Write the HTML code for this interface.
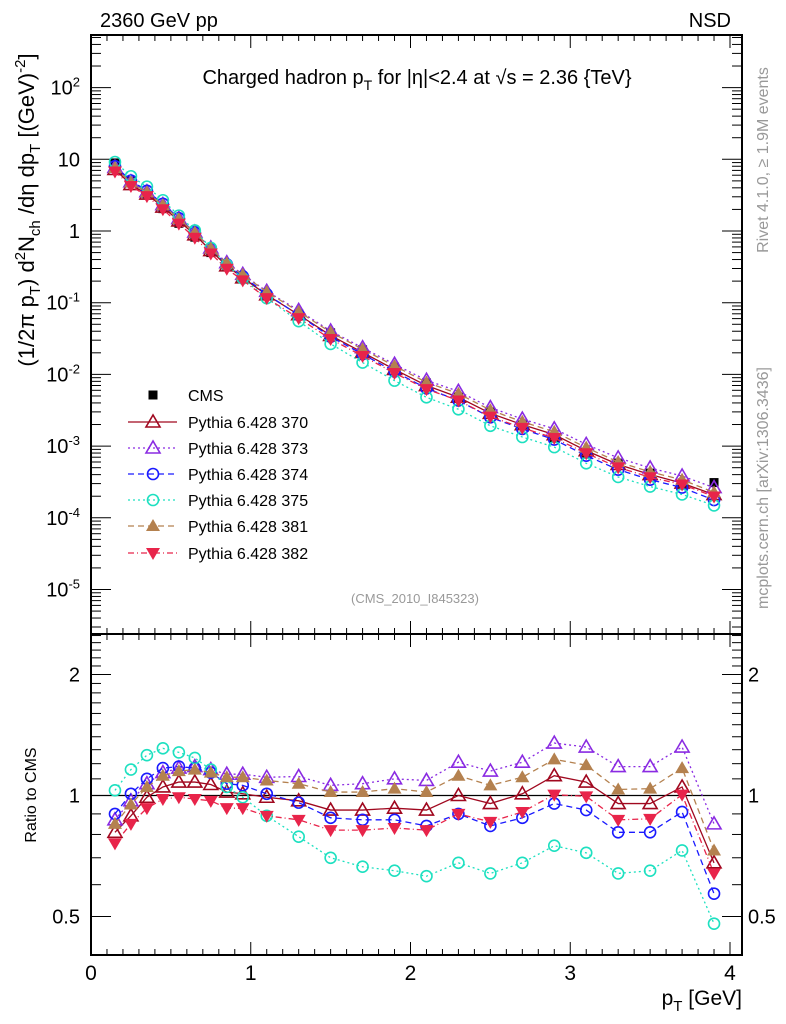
<!DOCTYPE html>
<html><head><meta charset="utf-8"><style>
html,body{margin:0;padding:0;background:#fff;}
svg{display:block;font-family:"Liberation Sans",sans-serif;}
</style></head><body>
<svg id="chart" width="786" height="1024" viewBox="0 0 786 1024"></svg>
<script>
const pt = [0.15,0.25,0.35,0.45,0.55,0.65,0.75,0.85,0.95,1.1,1.3,1.5,1.7,1.9,2.1,2.3,2.5,2.7,2.9,3.1,3.3,3.5,3.7,3.9];
const cmsValues = [8.9,5.0,3.3,2.05,1.28,0.82,0.5,0.32,0.22,0.13,0.07,0.038,0.022,0.0126,0.0076,0.0048,0.003,0.00197,0.00129,0.0008,0.00058,0.00042,0.00029,0.00031];
const ratio370 = [0.81,0.89,0.99,1.05,1.08,1.08,1.065,1.02,1.01,0.99,0.97,0.92,0.92,0.93,0.92,1.0,0.955,1.01,1.12,1.08,0.955,0.955,1.05,0.68];
const ratio373 = [0.87,0.97,1.07,1.14,1.17,1.18,1.16,1.13,1.13,1.11,1.115,1.06,1.07,1.10,1.09,1.21,1.15,1.21,1.35,1.32,1.18,1.18,1.32,0.85];
const ratio374 = [0.90,1.01,1.10,1.17,1.18,1.17,1.14,1.07,1.06,1.01,0.96,0.88,0.87,0.87,0.84,0.90,0.84,0.88,0.955,0.92,0.81,0.81,0.91,0.57];
const ratio375 = [1.03,1.16,1.26,1.31,1.28,1.24,1.16,1.05,0.99,0.89,0.79,0.70,0.665,0.65,0.63,0.68,0.64,0.68,0.75,0.72,0.64,0.65,0.73,0.48];
const ratio381 = [0.85,0.95,1.05,1.12,1.15,1.16,1.14,1.11,1.11,1.09,1.07,1.02,1.02,1.04,1.02,1.12,1.06,1.11,1.23,1.19,1.035,1.04,1.17,0.73];
const ratio382 = [0.76,0.85,0.93,0.98,0.99,0.98,0.97,0.93,0.93,0.89,0.87,0.82,0.82,0.83,0.82,0.90,0.86,0.91,1.005,0.995,0.87,0.875,1.005,0.64];
const seriesNames = ["370","373","374","375","381","382"];
const xTicks = [0,1,2,3,4];
const yMainTicks = [{v:100,l:"10<tspan dy='-8' font-size='13'>2</tspan>"},{v:10,l:"10"},{v:1,l:"1"},{v:0.1,l:"10<tspan dy='-8' font-size='13'>-1</tspan>"},{v:0.01,l:"10<tspan dy='-8' font-size='13'>-2</tspan>"},{v:0.001,l:"10<tspan dy='-8' font-size='13'>-3</tspan>"},{v:0.0001,l:"10<tspan dy='-8' font-size='13'>-4</tspan>"},{v:0.00001,l:"10<tspan dy='-8' font-size='13'>-5</tspan>"}];
const yRatioTicks = [2,1,0.5];

const L=91,R=742,T=35,MB=634,RB=955;
const X = v => 91 + v*159.75;
const Y = v => 231 - 71.7*Math.log10(v);
const YR = v => 795.5 - 402*Math.log10(v);
const NS="http://www.w3.org/2000/svg";
const svg=document.getElementById('chart');
function mk(tag,attrs,parent){const e=document.createElementNS(NS,tag);for(const k in attrs)e.setAttribute(k,attrs[k]);(parent||svg).appendChild(e);return e;}

const styles = {
 "370":{c:"#a0081f",dash:"",m:"tri-open"},
 "373":{c:"#8a2be2",dash:"2,3",m:"tri-open"},
 "374":{c:"#1a1aff",dash:"6,4",m:"circ"},
 "375":{c:"#1de0c0",dash:"2,3",m:"circ"},
 "381":{c:"#b4814f",dash:"6,4",m:"tri-fill"},
 "382":{c:"#e8244a",dash:"6,3,1,3",m:"tri-down"}
};
const ratios={"370":ratio370,"373":ratio373,"374":ratio374,"375":ratio375,"381":ratio381,"382":ratio382};

function marker(g,type,x,y,c){
  let e;
  if(type==="tri-open") e=mk('polygon',{points:`${x},${y-7} ${x-7},${y+5} ${x+7},${y+5}`,fill:"none",stroke:c,'stroke-width':1.6},g);
  else if(type==="tri-fill") e=mk('polygon',{points:`${x},${y-7} ${x-7},${y+5} ${x+7},${y+5}`,fill:c},g);
  else if(type==="tri-down") e=mk('polygon',{points:`${x},${y+7} ${x-7},${y-5} ${x+7},${y-5}`,fill:c},g);
  else if(type==="circ") e=mk('circle',{cx:x,cy:y,r:5.5,fill:"none",stroke:c,'stroke-width':1.6},g);
  else e=mk('rect',{x:x-4.5,y:y-4.5,width:9,height:9,fill:"#000"},g);
  return e;
}

const defs=mk('defs',{});
const cp1=mk('clipPath',{id:'cm'},defs); mk('rect',{x:L,y:T,width:R-L,height:MB-T},cp1);
const cp2=mk('clipPath',{id:'cr'},defs); mk('rect',{x:L,y:MB,width:R-L,height:RB-MB},cp2);

const f1=mk('rect',{x:L,y:T,width:R-L,height:MB-T,fill:"none",stroke:"#000",'stroke-width':2});


const f2=mk('rect',{x:L,y:MB,width:R-L,height:RB-MB,fill:"none",stroke:"#000",'stroke-width':2});



const xt=mk('g',{stroke:"#000",'stroke-width':1});


for(let i=0;i<=40;i++){const v=i/10;const x=X(v);if(x>R)break;const big=i%10===0;const len=big?13:6;
 [T,MB].forEach(y=>mk('line',{x1:x,y1:y,x2:x,y2:y+len},xt));
 [MB,RB].forEach(y=>mk('line',{x1:x,y1:y,x2:x,y2:y-len},xt));}
xTicks.forEach(v=>{const t=mk('text',{x:X(v),y:980,'font-size':21,'text-anchor':'middle'});t.textContent=v;
 
 });

const yt=mk('g',{stroke:"#000",'stroke-width':1});


for(let d=-6;d<=2;d++){for(let k=1;k<=9;k++){const v=k*Math.pow(10,d);const y=Y(v);if(y<T||y>MB)continue;const len=k===1?20:10;
 mk('line',{x1:L,y1:y,x2:L+len,y2:y},yt);mk('line',{x1:R,y1:y,x2:R-len,y2:y},yt);}}
yMainTicks.forEach(o=>{const t=mk('text',{x:80,y:Y(o.v)+7,'font-size':20,'text-anchor':'end'});t.innerHTML=o.l;
 
 });

const rt=mk('g',{stroke:"#000",'stroke-width':1});


for(let v=0.4;v<=2.55;v+=0.1){const vv=Math.round(v*10)/10;const y=YR(vv);if(y<MB||y>RB)continue;const big=(vv===0.5||vv===1||vv===2);const len=big?20:10;
 mk('line',{x1:L,y1:y,x2:L+len,y2:y},rt);mk('line',{x1:R,y1:y,x2:R-len,y2:y},rt);}
yRatioTicks.forEach(v=>{const t=mk('text',{x:80,y:YR(v)+7,'font-size':20,'text-anchor':'end'});t.textContent=v;
 
 
 const t2=mk('text',{x:748,y:YR(v)+7,'font-size':20});t2.textContent=v;
 
 });
const ref=mk('line',{x1:L,y1:YR(1),x2:R,y2:YR(1),stroke:"#000",'stroke-width':1.3});



const gMain=mk('g',{'clip-path':'url(#cm)'});


const gRat=mk('g',{'clip-path':'url(#cr)'});


const gc=mk('g',{},gMain);


pt.forEach((p,i)=>{const m=marker(gc,'sq',X(p),Y(cmsValues[i]));
  
  });
seriesNames.forEach(n=>{
  const s=styles[n],r=ratios[n];
  const g=mk('g',{},gMain);
  
  
  const pm=pt.map((p,i)=>X(p)+','+Y(cmsValues[i]*r[i])).join(' ');
  mk('polyline',{points:pm,fill:'none',stroke:s.c,'stroke-width':1.3,'stroke-dasharray':s.dash},g);
  pt.forEach((p,i)=>{const m=marker(g,s.m,X(p),Y(cmsValues[i]*r[i]),s.c);
    
    });
  const g2=mk('g',{},gRat);
  
  
  mk('polyline',{points:pt.map((p,i)=>X(p)+','+YR(r[i])).join(' '),fill:'none',stroke:s.c,'stroke-width':1.3,'stroke-dasharray':s.dash},g2);
  pt.forEach((p,i)=>{const m=marker(g2,s.m,X(p),YR(r[i]),s.c);
    
    });
});

const lg=mk('g',{});


const legY=[395,422,448,474,500,526,553];
const le0=mk('g',{},lg);


marker(le0,'sq',153,legY[0]);
const lt0=mk('text',{x:188,y:legY[0]+6,'font-size':16},le0);lt0.textContent="CMS";
seriesNames.forEach((n,i)=>{const s=styles[n],y=legY[i+1];
  const e=mk('g',{},lg);
  
  
  mk('line',{x1:128,y1:y,x2:177,y2:y,stroke:s.c,'stroke-width':1.3,'stroke-dasharray':s.dash},e);
  marker(e,s.m,153,y,s.c);
  const t=mk('text',{x:188,y:y+6,'font-size':16},e);t.textContent="Pythia 6.428 "+n;});
</script>
<svg width="786" height="1024" style="position:absolute;left:0;top:0;font-family:'Liberation Sans',sans-serif;">
<text x="100" y="27" font-size="20">2360 GeV pp</text>
<text x="731" y="27" font-size="20" text-anchor="end">NSD</text>
<text x="417" y="84" font-size="20" text-anchor="middle">Charged hadron p<tspan dy="6" font-size="14">T</tspan><tspan dy="-6"> for |η|&lt;2.4 at √s = 2.36 {TeV}</tspan></text>
<text x="415" y="603" font-size="13" fill="#999" text-anchor="middle">(CMS_2010_I845323)</text>
<text transform="translate(768,160) rotate(-90)" font-size="16" fill="#999" text-anchor="middle">Rivet 4.1.0, ≥ 1.9M events</text>
<text transform="translate(768,488) rotate(-90)" font-size="16" fill="#999" text-anchor="middle">mcplots.cern.ch [arXiv:1306.3436]</text>
<text transform="translate(34,210) rotate(-90)" font-size="22" text-anchor="middle">(1/2π p<tspan dy="6" font-size="15">T</tspan><tspan dy="-6">) d</tspan><tspan dy="-9" font-size="15">2</tspan><tspan dy="9">N</tspan><tspan dy="6" font-size="15">ch</tspan><tspan dy="-6"> /dη  dp</tspan><tspan dy="6" font-size="15">T</tspan><tspan dy="-6"> [(GeV)</tspan><tspan dy="-9" font-size="15">-2</tspan><tspan dy="9">]</tspan></text>
<text transform="translate(36,795) rotate(-90)" font-size="16" text-anchor="middle">Ratio to CMS</text>
<text x="742" y="1005" font-size="21" text-anchor="end">p<tspan dy="6" font-size="15">T</tspan><tspan dy="-6"> [GeV]</tspan></text>
</svg>
</body></html>
